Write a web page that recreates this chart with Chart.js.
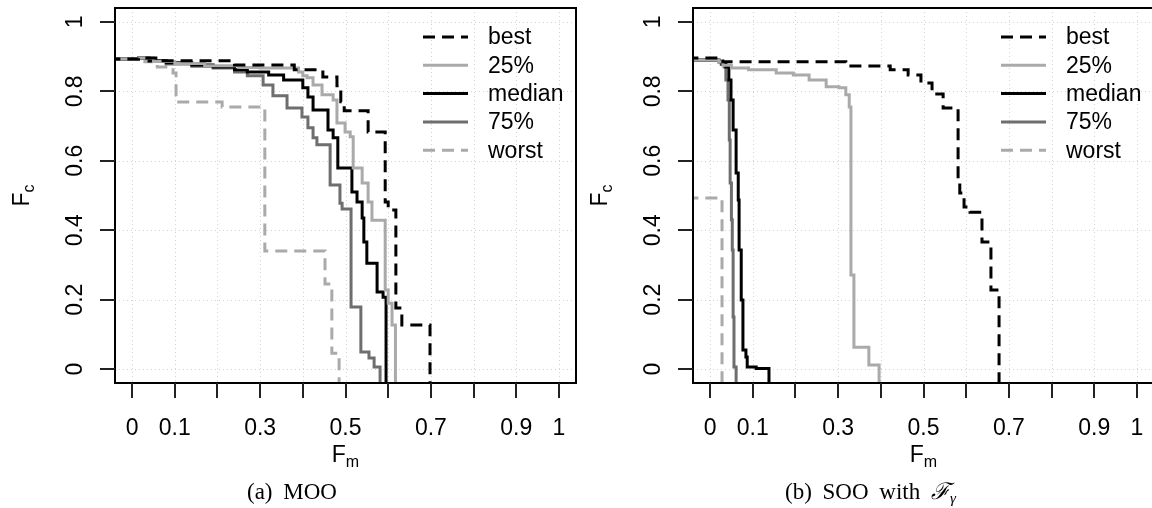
<!DOCTYPE html>
<html><head><meta charset="utf-8">
<script src="https://cdn.jsdelivr.net/npm/chart.js@4.4.1/dist/chart.umd.min.js"></script>
<style>
html,body{margin:0;padding:0;background:#fff;overflow:hidden;width:1152px;height:508px;}
canvas{position:absolute;top:0;}
#c1{left:0;}
#c2{left:580px;}
.cap{position:absolute;top:480px;font-family:"Liberation Serif","Times New Roman",serif;font-size:23px;line-height:23px;white-space:nowrap;word-spacing:5px;color:#000;}
.cap sub{font-size:15px;vertical-align:-4px;}
#capA{left:247px;}
#capB{left:785px;}
</style></head>
<body>
<canvas id="c1" width="580" height="508"></canvas>
<canvas id="c2" width="580" height="508"></canvas>
<div class="cap" id="capA">(a) MOO</div>
<div class="cap" id="capB">(b) SOO with <span style="font-family:'DejaVu Serif',serif;font-style:italic;">ℱ</span><sub><i>γ</i></sub></div>
<script>
// ---- series names ----
const seriesNames = ['best', '25%', 'median', '75%', 'worst'];

// ---- panel (a) MOO: x = Fm, y = Fc (step curves) ----
const mooBestX  = [-0.1, 0.015, 0.06, 0.24, 0.38, 0.447, 0.48, 0.489, 0.497, 0.553, 0.593, 0.6, 0.618, 0.632, 0.698];
const mooBestY  = [0.893, 0.896, 0.888, 0.876, 0.862, 0.841, 0.816, 0.77, 0.744, 0.683, 0.481, 0.458, 0.176, 0.127, -0.1];
const moo25X    = [-0.1, 0.015, 0.05, 0.1, 0.17, 0.25, 0.3, 0.39, 0.4, 0.41, 0.424, 0.445, 0.471, 0.48, 0.499, 0.511, 0.518, 0.539, 0.553, 0.562, 0.593, 0.6, 0.609, 0.617];
const moo25Y    = [0.893, 0.896, 0.886, 0.88, 0.874, 0.869, 0.867, 0.856, 0.845, 0.839, 0.818, 0.79, 0.775, 0.709, 0.683, 0.669, 0.579, 0.536, 0.481, 0.429, 0.228, 0.19, 0.127, -0.1];
const mooMedX   = [-0.1, 0.015, 0.04, 0.08, 0.14, 0.19, 0.24, 0.27, 0.32, 0.355, 0.4, 0.412, 0.424, 0.459, 0.471, 0.482, 0.515, 0.527, 0.539, 0.543, 0.55, 0.574, 0.588, 0.595];
const mooMedY   = [0.893, 0.896, 0.888, 0.882, 0.876, 0.870, 0.862, 0.856, 0.847, 0.833, 0.81, 0.784, 0.746, 0.689, 0.666, 0.579, 0.51, 0.481, 0.435, 0.366, 0.305, 0.222, 0.207, -0.1];
const moo75X    = [-0.1, 0.015, 0.04, 0.08, 0.14, 0.19, 0.24, 0.27, 0.307, 0.33, 0.363, 0.398, 0.412, 0.424, 0.433, 0.464, 0.487, 0.492, 0.513, 0.536, 0.555, 0.567, 0.581];
const moo75Y    = [0.893, 0.896, 0.886, 0.879, 0.872, 0.867, 0.856, 0.845, 0.818, 0.787, 0.752, 0.726, 0.695, 0.666, 0.646, 0.530, 0.478, 0.461, 0.179, 0.049, 0.032, 0.006, -0.1];
const mooWorstX = [-0.1, 0.015, 0.03, 0.059, 0.096, 0.103, 0.211, 0.305, 0.311, 0.452, 0.468, 0.485];
const mooWorstY = [0.893, 0.896, 0.885, 0.870, 0.853, 0.769, 0.755, 0.75, 0.340, 0.245, 0.046, -0.1];

// ---- panel (b) SOO with F_gamma ----
const sooBestX  = [-0.1, 0.03, 0.318, 0.422, 0.464, 0.494, 0.52, 0.546, 0.581, 0.585, 0.595, 0.609, 0.637, 0.658, 0.677];
const sooBestY  = [0.896, 0.885, 0.873, 0.862, 0.847, 0.824, 0.792, 0.752, 0.545, 0.507, 0.467, 0.452, 0.366, 0.228, -0.1];
const soo25X    = [-0.1, 0.02, 0.03, 0.05, 0.09, 0.155, 0.195, 0.232, 0.272, 0.302, 0.318, 0.326, 0.330, 0.337, 0.372, 0.396];
const soo25Y    = [0.89, 0.885, 0.875, 0.867, 0.862, 0.853, 0.847, 0.833, 0.813, 0.81, 0.79, 0.755, 0.271, 0.063, 0.012, -0.1];
const sooMedX   = [-0.1, 0.021, 0.028, 0.037, 0.044, 0.049, 0.054, 0.061, 0.066, 0.068, 0.073, 0.077, 0.084, 0.087, 0.108, 0.138];
const sooMedY   = [0.89, 0.885, 0.878, 0.870, 0.833, 0.775, 0.689, 0.565, 0.487, 0.343, 0.199, 0.055, 0.035, 0.006, 0.002, -0.1];
const soo75X    = [-0.1, 0.02, 0.026, 0.033, 0.037, 0.042, 0.045, 0.047, 0.05, 0.052, 0.054, 0.056, 0.061];
const soo75Y    = [0.89, 0.885, 0.878, 0.870, 0.833, 0.775, 0.66, 0.536, 0.43, 0.343, 0.15, 0.006, -0.1];
const sooWorstX = [-0.1, 0.028];
const sooWorstY = [0.493, -0.1];

// ---- axes ----
const xTickValues = [0, 0.1, 0.2, 0.3, 0.4, 0.5, 0.6, 0.7, 0.8, 0.9, 1];
const xTickLabels = ['0', '0.1', '', '0.3', '', '0.5', '', '0.7', '', '0.9', '1'];
const yTickValues = [0, 0.2, 0.4, 0.6, 0.8, 1];
const yTickLabels = ['0', '0.2', '0.4', '0.6', '0.8', '1'];
const xGridValues = xTickValues;
const yGridValues = yTickValues;

// ---- styles ----
const styles = [
  {color: '#000000', dash: [12, 7]},
  {color: '#aaaaaa', dash: []},
  {color: '#000000', dash: []},
  {color: '#6e6e6e', dash: []},
  {color: '#aaaaaa', dash: [12, 7]}
];
const SANS = '"Liberation Sans", Arial, Helvetica, sans-serif';

function pts(xs, ys) { return xs.map((x, i) => ({x: x, y: ys[i]})); }

function makeDatasets(list) {
  return list.map((s, i) => ({
    label: seriesNames[i],
    data: pts(s[0], s[1]),
    borderColor: styles[i].color,
    borderDash: styles[i].dash,
    borderWidth: 3,
    borderCapStyle: 'butt',
    borderJoinStyle: 'miter',
    pointRadius: 0,
    fill: false,
    tension: 0,
    stepped: 'before',
    clip: 0
  }));
}

const rPlot = {
  id: 'rPlot',
  beforeDatasetsDraw(chart) {
    const ctx = chart.ctx, a = chart.chartArea, xs = chart.scales.x, ys = chart.scales.y;
    ctx.save();
    ctx.strokeStyle = '#d3d3d3';
    ctx.lineWidth = 1;
    ctx.setLineDash([1, 3]);
    ctx.beginPath();
    xGridValues.forEach(v => {
      const p = Math.round(xs.getPixelForValue(v)) + 0.5;
      ctx.moveTo(p, a.top); ctx.lineTo(p, a.bottom);
    });
    yGridValues.forEach(v => {
      const p = Math.round(ys.getPixelForValue(v)) + 0.5;
      ctx.moveTo(a.left, p); ctx.lineTo(a.right, p);
    });
    ctx.stroke();
    ctx.restore();
  },
  afterDatasetsDraw(chart, args, opts) {
    const ctx = chart.ctx, a = chart.chartArea, xs = chart.scales.x, ys = chart.scales.y;
    ctx.save();
    // box
    ctx.strokeStyle = '#000'; ctx.lineWidth = 2; ctx.setLineDash([]);
    ctx.strokeRect(a.left, a.top, a.right - a.left, a.bottom - a.top);
    // ticks
    ctx.strokeStyle = '#222'; ctx.lineWidth = 2;
    ctx.beginPath();
    yTickValues.forEach(v => {
      const p = Math.round(ys.getPixelForValue(v));
      ctx.moveTo(a.left - 15, p); ctx.lineTo(a.left, p);
    });
    xTickValues.forEach(v => {
      const p = Math.round(xs.getPixelForValue(v));
      ctx.moveTo(p, a.bottom); ctx.lineTo(p, a.bottom + 15);
    });
    ctx.stroke();
    // tick labels
    ctx.fillStyle = '#000';
    ctx.font = '23px ' + SANS;
    ctx.textAlign = 'center'; ctx.textBaseline = 'alphabetic';
    xTickValues.forEach((v, i) => {
      if (xTickLabels[i]) ctx.fillText(xTickLabels[i], xs.getPixelForValue(v), a.bottom + 52);
    });
    yTickValues.forEach((v, i) => {
      ctx.save();
      ctx.translate(a.left - 33, ys.getPixelForValue(v));
      ctx.rotate(-Math.PI / 2);
      ctx.fillText(yTickLabels[i], 0, 0);
      ctx.restore();
    });
    // x axis title F_m
    const cx = (a.left + a.right) / 2;
    ctx.textAlign = 'left';
    ctx.font = '23px ' + SANS;
    const wF = ctx.measureText('F').width;
    ctx.font = '16px ' + SANS;
    const wm = ctx.measureText('m').width;
    const x0 = cx - (wF + wm) / 2;
    ctx.font = '23px ' + SANS;
    ctx.fillText('F', x0, a.bottom + 79);
    ctx.font = '16px ' + SANS;
    ctx.fillText('m', x0 + wF, a.bottom + 84);
    // y axis title F_c (rotated)
    ctx.save();
    ctx.translate(a.left - 86, (a.top + a.bottom) / 2);
    ctx.rotate(-Math.PI / 2);
    ctx.font = '16px ' + SANS;
    const wc = ctx.measureText('c').width;
    const y0 = -(wF + wc) / 2;
    ctx.font = '23px ' + SANS;
    ctx.fillText('F', y0, 0);
    ctx.font = '16px ' + SANS;
    ctx.fillText('c', y0 + wF, 5);
    ctx.restore();
    // legend
    const L = opts;
    chart.data.datasets.forEach((ds, i) => {
      const ry = L.rowY0 + L.rowStep * i;
      ctx.strokeStyle = ds.borderColor;
      ctx.lineWidth = ds.borderWidth;
      ctx.lineCap = 'butt';
      ctx.setLineDash(ds.borderDash);
      ctx.beginPath();
      ctx.moveTo(a.right + L.lineX1, ry); ctx.lineTo(a.right + L.lineX2, ry);
      ctx.stroke();
      ctx.setLineDash([]);
      ctx.fillStyle = '#000';
      ctx.font = '23px ' + SANS;
      ctx.textAlign = 'left';
      ctx.textBaseline = 'middle';
      ctx.fillText(ds.label, a.right + L.textX, ry + 1);
    });
    ctx.restore();
  }
};

function makeChart(id, list, pad) {
  return new Chart(document.getElementById(id), {
    type: 'line',
    data: {datasets: makeDatasets(list)},
    plugins: [rPlot],
    options: {
      responsive: false,
      animation: false,
      devicePixelRatio: 1,
      layout: {padding: pad},
      parsing: true,
      scales: {
        x: {type: 'linear', min: -0.04, max: 1.04, display: false},
        y: {type: 'linear', min: -0.04, max: 1.04, display: false}
      },
      plugins: {
        legend: {display: false},
        tooltip: {enabled: false},
        rPlot: {rowY0: 37, rowStep: 28.3, lineX1: -153, lineX2: -108, textX: -88}
      }
    }
  });
}

makeChart('c1', [[mooBestX, mooBestY], [moo25X, moo25Y], [mooMedX, mooMedY], [moo75X, moo75Y], [mooWorstX, mooWorstY]],
  {left: 115, right: 4, top: 8, bottom: 125});
makeChart('c2', [[sooBestX, sooBestY], [soo25X, soo25Y], [sooMedX, sooMedY], [soo75X, soo75Y], [sooWorstX, sooWorstY]],
  {left: 113, right: 6, top: 8, bottom: 125});
</script>
</body></html>
